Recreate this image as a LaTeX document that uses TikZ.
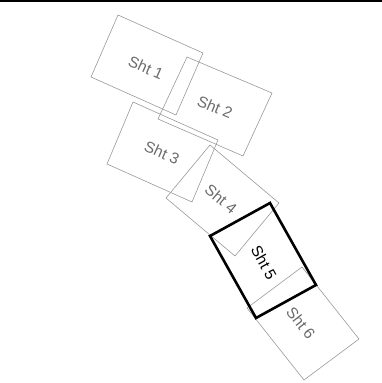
\documentclass[tikz,border=0pt]{standalone}
\usepackage{fontspec}
\setmainfont{Liberation Sans}
\tikzset{
  sheet/.style={draw=black!40, line width=0.6pt},
  sheetcur/.style={draw=black, line width=2.6pt, line join=miter},
  lbl/.style={font=\fontsize{15.5}{17}\selectfont, text=black!58, inner sep=0pt},
  lblcur/.style={font=\fontsize{15.5}{17}\selectfont, text=black, inner sep=0pt}
}
\begin{document}
\begin{tikzpicture}[x=1pt,y=-1pt]
\useasboundingbox (0,0) rectangle (382,383);
\fill[black] (0,0) rectangle (382,2.2);
% sheet corners
\coordinate (a1) at (118,15); \coordinate (b1) at (203,53); \coordinate (c1) at (176,115); \coordinate (d1) at (91,77);
\coordinate (a2) at (187,57); \coordinate (b2) at (272,93); \coordinate (c2) at (243,156); \coordinate (d2) at (158,119);
\coordinate (a3) at (133,102); \coordinate (b3) at (218,140); \coordinate (c3) at (192,202); \coordinate (d3) at (107,164);
\coordinate (a4) at (210,145); \coordinate (b4) at (279,203); \coordinate (c4) at (235,256); \coordinate (d4) at (166,198);
\coordinate (a6) at (302,267); \coordinate (b6) at (359,339); \coordinate (c6) at (304,380); \coordinate (d6) at (247,308);
\coordinate (a5) at (270,203); \coordinate (b5) at (316,285); \coordinate (c5) at (256,318); \coordinate (d5) at (210,236);
\draw[sheet] (a1) -- (b1) -- (c1) -- (d1) -- cycle;
\draw[sheet] (a2) -- (b2) -- (c2) -- (d2) -- cycle;
\draw[sheet] (a3) -- (b3) -- (c3) -- (d3) -- cycle;
\draw[sheet] (a4) -- (b4) -- (c4) -- (d4) -- cycle;
\draw[sheet] (a6) -- (b6) -- (c6) -- (d6) -- cycle;
\draw[sheetcur] (a5) -- (b5) -- (c5) -- (d5) -- cycle;
\node[lbl, rotate=-24] (s1) at (146,68) {Sht 1};
\node[lbl, rotate=-23] (s2) at (215,107) {Sht 2};
\node[lbl, rotate=-24] (s3) at (162,153) {Sht 3};
\node[lbl, rotate=-40] (s4) at (221,199) {Sht 4};
\node[lblcur, rotate=-61] (s5) at (264,263) {Sht 5};
\node[lbl, rotate=-52] (s6) at (301,323) {Sht 6};
\end{tikzpicture}
\end{document}
